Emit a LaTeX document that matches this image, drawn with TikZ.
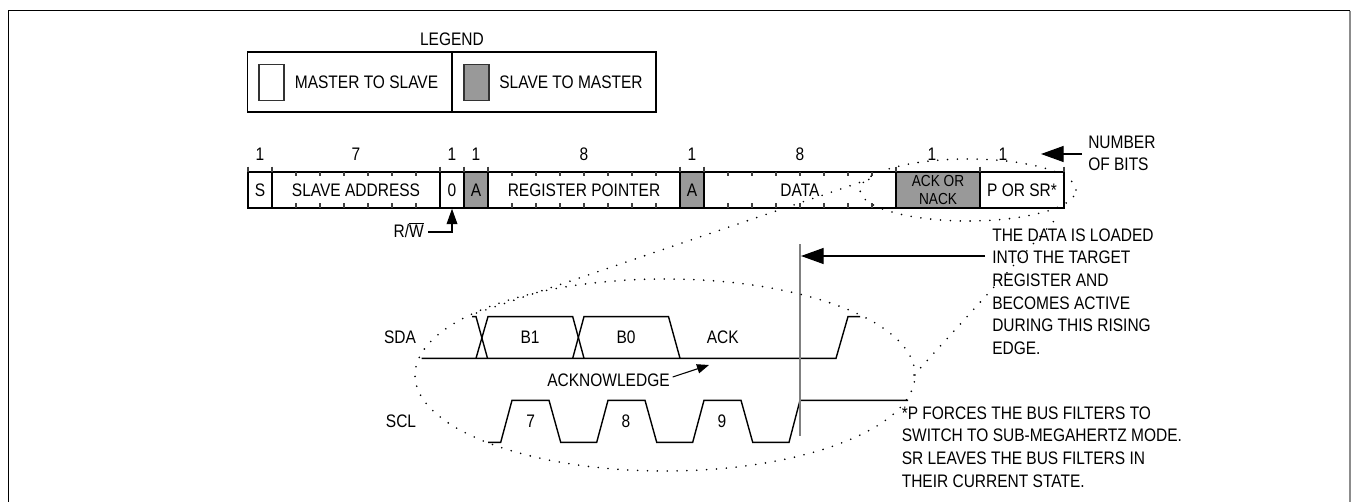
\documentclass[tikz,border=0pt]{standalone}
\usepackage{fontspec}
\setmainfont{Liberation Sans}[FakeStretch=0.855]
\usetikzlibrary{arrows.meta,shapes.geometric}
\definecolor{busgray}{HTML}{999999}
\definecolor{rulegray}{HTML}{808080}
\newcommand{\bitcell}[5]{\node[cellbox,fill=#5,minimum width=#3*0.75pt] (#1) at (#2,190) {#4};}
\newcommand{\bitcount}[3]{\node[lbl] (#1) at (#2,154) {#3};}
\tikzset{
  x=0.75pt,y=-0.75pt,
  lbl/.style={inner sep=0pt,font=\fontsize{13.6pt}{17pt}\selectfont},
  note/.style={lbl,align=left,anchor=west},
  cellbox/.style={lbl,draw=black,line width=1.1pt,minimum height=27pt,inner sep=0pt},
  swatch/.style={draw=black!80,line width=1.1pt,minimum width=18.75pt,minimum height=27pt,inner sep=0pt},
  frame/.style={line width=1.2pt},
  tickmark/.style={line width=1.1pt,draw=black!75},
  wave/.style={line width=1.05pt,line join=miter},
  tipped/.style={line width=1pt,-{Triangle[length=17pt,width=12pt]}},
  smalltip/.style={line width=0.8pt,-{Triangle[length=9pt,width=7pt]}},
  dots/.style={line width=1.35pt,line cap=round,dash pattern=on 0pt off 7.4pt},
  dotring/.style={ellipse,draw,dots,inner sep=0pt,fill=none},
}
\begin{document}
\begin{tikzpicture}
\useasboundingbox (0,0) rectangle (1351,502);
% outer frame
\draw[frame] (8.3,502) -- (8.3,10.7) -- (1350,10.7);
\draw[frame,draw=black!45] (1350,10.7) -- (1350,502);
% legend
\node[lbl] (legendtitle) at (452,39) {LEGEND};
\node[draw=black,line width=1.1pt,minimum width=153.5pt,minimum height=45pt,inner sep=0pt] (legendl) at (350,82) {};
\node[draw=black,line width=1.1pt,minimum width=153pt,minimum height=45pt,inner sep=0pt] (legendr) at (554,82) {};
\node[swatch] (swatchm) at (271.5,82.5) {};
\node[swatch,fill=busgray] (swatchs) at (476.5,82.5) {};
\node[lbl] (masterlbl) at (366.5,82) {MASTER TO SLAVE};
\node[lbl] (slavelbl) at (571,82) {SLAVE TO MASTER};
% bit counts
\bitcount{n1}{260}{1}
\bitcount{n2}{356}{7}
\bitcount{n3}{452}{1}
\bitcount{n4}{476}{1}
\bitcount{n5}{584}{8}
\bitcount{n6}{692}{1}
\bitcount{n7}{800}{8}
\bitcount{n8}{932}{1}
\bitcount{n9}{1003}{1}
% cells
\bitcell{bitS}{260}{24}{S}{white}
\bitcell{bitaddr}{356}{168}{SLAVE ADDRESS}{white}
\bitcell{bitzero}{452}{24}{0}{white}
\bitcell{bitA}{476}{24}{A}{busgray}
\bitcell{bitreg}{584}{192}{REGISTER POINTER}{white}
\bitcell{bitB}{692}{24}{A}{busgray}
\bitcell{bitdata}{800}{192}{DATA}{white}
\bitcell{bitack}{938}{84}{}{busgray}
\bitcell{bitp}{1022}{84}{P OR SR*}{white}
\node[inner sep=0pt,align=center,font=\fontsize{12pt}{13.5pt}\selectfont] (acktext) at (bitack) {ACK OR\\NACK};
% ticks
\foreach \t in {248,272,440,464,488,680,704,896,980,1064}
  \draw[tickmark] (\t,166.7) -- (\t,172);
\foreach \t in {296,320,...,416,512,536,...,656,728,752,...,872}
  {\draw[tickmark] (\t,172) -- (\t,176.5);
   \draw[tickmark] (\t,203.5) -- (\t,208);}
% R/W arrow
\node[lbl,anchor=base east] (rwlabel) at (424,238) {R/\ensuremath{\overline{\mbox{W}}}};
\coordinate (rwfrom) at (428,232);
\coordinate (rwbend) at (452,232);
\draw[line width=1pt,-{Triangle[length=11.5pt,width=8pt]}] (rwfrom) -- (rwbend) -- (bitzero.south);
% notes
\node[note] (numbits) at (1088,153.5) {NUMBER\\OF BITS};
\coordinate (numtip) at (1041,154);
\draw[tipped] (1082,154) coordinate (numfrom) -- (numtip);
\node[note] (datanote) at (992,291.5) {THE DATA IS LOADED\\INTO THE TARGET\\REGISTER AND\\BECOMES ACTIVE\\DURING THIS RISING\\EDGE.};
\coordinate (edgetop) at (800,244);
\coordinate (edgebot) at (800,436);
\coordinate (datafrom) at (985,256);
\coordinate (datatip) at (801,256);
\draw[tipped] (datafrom) -- (datatip);
\node[note] (pnote) at (901.5,447) {*P FORCES THE BUS FILTERS TO\\SWITCH TO SUB-MEGAHERTZ MODE.\\SR LEAVES THE BUS FILTERS IN\\THEIR CURRENT STATE.};
% waveforms
\node[lbl] (sda) at (400,337) {SDA};
\node[lbl] (scl) at (401,421) {SCL};
\draw[wave] (421.7,358.3) -- (836,358.3) -- (848,316.6) -- (860,316.6);
\draw[wave] (472,316.6) -- (476,316.6) -- (487.5,358.3);
\draw[wave] (476,358.3) -- (488,316.6) -- (572.7,316.6) -- (584,358.3);
\draw[wave] (572.7,358.3) -- (584,316.6) -- (668.5,316.6) -- (680,358.3);
\draw[wave] (488,442.3) -- (500.7,442.3) -- (512,400.3) -- (549,400.3) -- (560.7,442.3)
  -- (596.7,442.3) -- (608,400.3) -- (645,400.3) -- (656.7,442.3)
  -- (692.7,442.3) -- (704,400.3) -- (741,400.3) -- (752.7,442.3)
  -- (789,442.3) -- (800,400.3) -- (908,400.3);
\draw[line width=1.4pt,draw=rulegray] (edgetop) -- (edgebot);
\node[lbl] (b1) at (530,337) {B1};
\node[lbl] (b0) at (626,337) {B0};
\node[lbl] (ackl) at (722.7,337) {ACK};
\node[lbl] (c7) at (530.7,421) {7};
\node[lbl] (c8) at (626,421) {8};
\node[lbl] (c9) at (722,421) {9};
\node[lbl] (acknow) at (608.5,380) {ACKNOWLEDGE};
\coordinate (ackfrom) at (672.7,377);
\coordinate (acktip) at (709,365);
\draw[smalltip] (ackfrom) -- (acktip);
% dotted zoom rings
\node[dotring,minimum width=375pt,minimum height=144pt] (bigring) at (665,375) {};
\node[dotring,minimum width=162pt,minimum height=46.5pt] (smallring) at (968,190) {};
\coordinate (joinA) at (476.5,313);
\coordinate (joinB) at (870,179);
\coordinate (joinC) at (914,375);
\coordinate (joinD) at (1054,221);
\draw[dots] (joinA) -- (joinB);
\draw[dots] (joinC) -- (joinD);
\end{tikzpicture}
\end{document}
